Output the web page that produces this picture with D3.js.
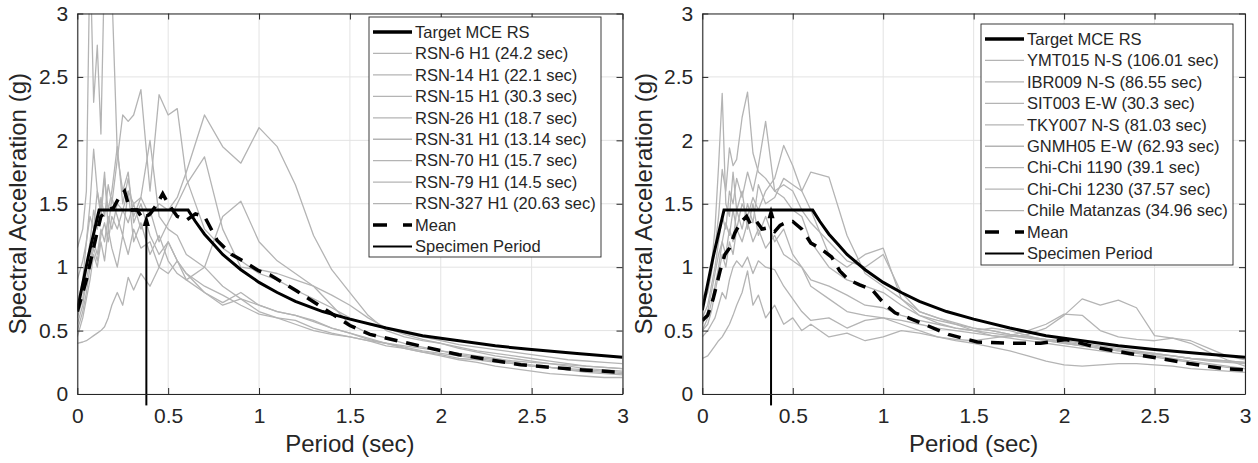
<!DOCTYPE html>
<html>
<head>
<meta charset="utf-8">
<script src="https://cdn.jsdelivr.net/npm/d3@7"></script>
<style>
  body { margin: 0; background: #fff; }
  svg { display: block; font-family: "Liberation Sans", Arial, sans-serif; }
</style>
</head>
<body>
<svg width="1258" height="463"></svg>
<script>

// period grid shared by every ground motion record (sec)
const periods = [0, 0.03, 0.05, 0.07, 0.09, 0.11, 0.13, 0.15, 0.17, 0.19, 0.22, 0.25, 0.28, 0.31, 0.35, 0.4, 0.45,
    0.5, 0.55, 0.6, 0.7, 0.8, 0.9, 1.0, 1.1, 1.2, 1.3, 1.4,
    1.5, 1.6, 1.7, 1.8, 1.9, 2.0, 2.1, 2.2, 2.3, 2.4, 2.5, 2.6, 2.7, 2.8, 2.9, 3.0];

const tickVals = [0, 0.5, 1, 1.5, 2, 2.5, 3];
const tickLabels = ['0', '0.5', '1', '1.5', '2', '2.5', '3'];

// target MCE spectrum
const targetT  = [0, 0.06, 0.12, 0.61, 0.65, 0.7, 0.75, 0.8, 0.9, 1.0, 1.1, 1.2, 1.35, 1.5, 1.7, 1.9, 2.1, 2.3, 2.5, 2.75, 3.0];
const targetSa = [0.66, 1.08, 1.45, 1.45, 1.36, 1.26, 1.18, 1.1, 0.98, 0.88, 0.8, 0.73, 0.65, 0.59, 0.52, 0.46, 0.42, 0.38, 0.35, 0.32, 0.29];

const specimenPeriod = 0.38;

// left panel records
const leftNames = ['RSN-6 H1 (24.2 sec)', 'RSN-14 H1 (22.1 sec)', 'RSN-15 H1 (30.3 sec)', 'RSN-26 H1 (18.7 sec)',
    'RSN-31 H1 (13.14 sec)', 'RSN-70 H1 (15.7 sec)', 'RSN-79 H1 (14.5 sec)', 'RSN-327 H1 (20.63 sec)'];

const rsn6 = [1.15, 1.3, 1.6, 3.5, 2.3, 2.75, 2.05, 3.4, 3.3, 3.2, 1.9, 1.6, 1.75, 1.35, 1.5, 1.25, 1.1,
    1.2, 1.05, 0.95, 0.85, 0.78, 0.7, 0.63, 0.6, 0.55, 0.5, 0.47,
    0.45, 0.42, 0.38, 0.36, 0.33, 0.31, 0.28, 0.27, 0.25, 0.24, 0.22, 0.21, 0.2, 0.19, 0.18, 0.17];
const rsn14 = [0.7, 0.9, 1.2, 1.5, 1.93, 1.6, 1.45, 1.75, 1.3, 1.55, 1.4, 1.25, 1.6, 1.2, 1.35, 1.1, 1.25,
    1.05, 0.95, 0.9, 0.8, 0.7, 0.75, 0.65, 0.6, 0.58, 0.52, 0.48,
    0.45, 0.42, 0.4, 0.37, 0.34, 0.32, 0.3, 0.28, 0.26, 0.24, 0.22, 0.21, 0.19, 0.18, 0.17, 0.16];
const rsn15 = [0.6, 0.75, 1.0, 1.2, 1.45, 1.3, 1.55, 1.4, 1.65, 1.5, 1.85, 2.2, 2.15, 2.2, 2.4, 1.6, 2.36,
    2.2, 2.25, 1.7, 1.3, 1.15, 1.05, 0.95, 0.9, 0.82, 0.75, 0.68,
    0.6, 0.55, 0.52, 0.48, 0.45, 0.42, 0.39, 0.37, 0.35, 0.33, 0.31, 0.29, 0.27, 0.26, 0.25, 0.24];
const rsn26 = [0.55, 0.7, 0.9, 1.05, 1.2, 1.1, 1.3, 1.2, 1.4, 1.3, 1.5, 1.45, 1.6, 1.5, 1.55, 1.4, 1.5,
    1.45, 1.55, 1.75, 2.2, 1.95, 1.82, 2.1, 1.95, 1.65, 1.25, 0.98,
    0.8, 0.62, 0.5, 0.45, 0.42, 0.4, 0.37, 0.34, 0.32, 0.3, 0.28, 0.26, 0.24, 0.22, 0.21, 0.2];
const rsn31 = [0.5, 0.65, 0.8, 1.0, 1.15, 1.05, 1.25, 1.35, 1.2, 1.4, 1.3, 1.45, 1.35, 1.5, 1.3, 1.45, 1.2,
    1.35, 1.5, 1.65, 1.87, 1.3, 1.0, 0.98, 0.95, 0.9, 0.85, 0.78,
    0.7, 0.6, 0.52, 0.47, 0.43, 0.4, 0.36, 0.33, 0.3, 0.28, 0.26, 0.24, 0.22, 0.2, 0.19, 0.18];
const rsn70 = [0.45, 0.6, 0.75, 0.9, 1.1, 1.0, 1.2, 1.05, 1.3, 1.15, 1.0, 1.25, 1.1, 1.3, 1.15, 1.2, 1.0,
    0.95, 1.05, 0.9, 1.0, 1.4, 1.52, 1.2, 1.05, 0.95, 0.85, 0.7,
    0.55, 0.48, 0.44, 0.4, 0.37, 0.34, 0.31, 0.29, 0.27, 0.25, 0.23, 0.21, 0.19, 0.17, 0.16, 0.15];
const rsn79 = [0.4, 0.41, 0.42, 0.44, 0.46, 0.48, 0.5, 0.53, 0.6, 0.7, 0.8, 0.7, 0.92, 0.82, 0.95, 0.85, 1.0,
    1.2, 1.05, 0.95, 0.8, 0.72, 0.8, 0.7, 0.65, 0.62, 0.57, 0.52,
    0.48, 0.43, 0.4, 0.36, 0.33, 0.3, 0.27, 0.25, 0.22, 0.2, 0.18, 0.16, 0.15, 0.14, 0.13, 0.13];
const rsn327 = [0.9, 1.05, 1.2, 1.4, 1.3, 1.6, 1.4, 1.7, 1.45, 1.6, 1.95, 1.5, 1.7, 1.4, 1.55, 2.0, 1.4,
    1.3, 1.25, 1.1, 1.0, 0.85, 0.75, 0.7, 0.65, 0.62, 0.58, 0.52,
    0.48, 0.44, 0.4, 0.38, 0.36, 0.34, 0.32, 0.3, 0.28, 0.26, 0.25, 0.24, 0.23, 0.22, 0.21, 0.2];

const meanLeftT  = [0, 0.05, 0.1, 0.13, 0.17, 0.2, 0.23, 0.26, 0.29, 0.33, 0.36, 0.4, 0.44, 0.47, 0.5, 0.55, 0.6,
    0.65, 0.7, 0.77, 0.85, 0.91, 1.0, 1.06, 1.21, 1.35, 1.5, 1.61, 1.79, 2.1, 2.44, 2.78, 3.0];
const meanLeftSa = [0.65, 0.9, 1.22, 1.4, 1.45, 1.47, 1.55, 1.6, 1.45, 1.45, 1.38, 1.42, 1.5, 1.58, 1.5, 1.4, 1.37,
    1.42, 1.4, 1.21, 1.1, 1.05, 0.97, 0.94, 0.81, 0.68, 0.54, 0.47, 0.41, 0.31, 0.23, 0.19, 0.17];

// right panel records
const rightNames = ['YMT015 N-S (106.01 sec)', 'IBR009 N-S (86.55 sec)', 'SIT003 E-W (30.3 sec)', 'TKY007 N-S (81.03 sec)',
    'GNMH05 E-W (62.93 sec)', 'Chi-Chi 1190 (39.1 sec)', 'Chi-Chi 1230 (37.57 sec)', 'Chile Matanzas (34.96 sec)'];

const ymt015 = [0.75, 0.85, 1.0, 1.3, 1.8, 2.37, 1.5, 1.4, 1.75, 1.45, 1.6, 1.3, 1.5, 1.25, 1.4, 1.2, 1.3,
    1.1, 1.0, 0.9, 0.85, 0.78, 0.7, 0.68, 0.62, 0.58, 0.55, 0.52,
    0.5, 0.48, 0.46, 0.44, 0.42, 0.4, 0.38, 0.36, 0.34, 0.33, 0.32, 0.3, 0.28, 0.26, 0.25, 0.24];
const ibr009 = [0.7, 0.8, 0.95, 1.15, 1.4, 1.77, 1.6, 1.94, 1.8, 1.85, 2.18, 2.38, 1.9, 1.75, 1.7, 1.6, 1.55,
    1.45, 1.4, 1.2, 1.0, 0.9, 0.85, 0.8, 0.7, 0.62, 0.58, 0.55,
    0.52, 0.5, 0.47, 0.45, 0.43, 0.41, 0.39, 0.37, 0.35, 0.33, 0.31, 0.3, 0.28, 0.27, 0.26, 0.25];
const sit003 = [0.6, 0.7, 0.85, 1.0, 1.2, 1.4, 1.3, 1.6, 1.5, 1.7, 1.55, 1.75, 1.6, 1.8, 2.15, 1.6, 1.65,
    1.6, 1.45, 1.35, 1.2, 1.05, 1.0, 1.1, 0.8, 0.65, 0.6, 0.56,
    0.52, 0.5, 0.47, 0.45, 0.43, 0.42, 0.4, 0.38, 0.36, 0.34, 0.32, 0.3, 0.28, 0.27, 0.26, 0.25];
const tky007 = [0.55, 0.65, 0.8, 0.95, 1.1, 1.2, 1.35, 1.25, 1.45, 1.3, 1.5, 1.4, 1.55, 1.45, 1.6, 1.7, 1.96,
    1.8, 1.6, 1.75, 1.71, 1.25, 0.95, 0.85, 0.75, 0.65, 0.6, 0.55,
    0.5, 0.46, 0.44, 0.42, 0.4, 0.38, 0.36, 0.34, 0.32, 0.3, 0.29, 0.27, 0.25, 0.23, 0.21, 0.2];
const gnmh05 = [0.5, 0.6, 0.72, 0.85, 1.0, 1.2, 1.1, 1.3, 1.2, 1.45, 1.3, 1.5, 1.35, 1.65, 1.5, 1.55, 1.7,
    1.65, 1.6, 1.45, 1.1, 1.0, 1.1, 1.15, 0.75, 0.62, 0.56, 0.52,
    0.5, 0.52, 0.5, 0.46, 0.42, 0.4, 0.38, 0.36, 0.34, 0.32, 0.3, 0.28, 0.26, 0.24, 0.22, 0.2];
const chichi1190 = [0.28, 0.3, 0.34, 0.38, 0.42, 0.45, 0.5, 0.55, 0.62, 0.7, 0.8, 0.97, 0.7, 0.78, 0.6, 0.7, 0.55,
    0.6, 0.5, 0.55, 0.45, 0.48, 0.42, 0.45, 0.5, 0.48, 0.45, 0.42,
    0.4, 0.37, 0.34, 0.3, 0.26, 0.23, 0.22, 0.23, 0.24, 0.24, 0.23, 0.22, 0.2, 0.19, 0.18, 0.17];
const chichi1230 = [0.45, 0.5, 0.55, 0.6, 0.7, 0.8, 0.75, 0.9, 1.0, 1.05, 1.0, 1.08, 0.95, 1.05, 1.0, 0.98, 0.85,
    0.75, 0.65, 0.58, 0.6, 0.52, 0.58, 0.6, 0.55, 0.5, 0.45, 0.43,
    0.42, 0.44, 0.46, 0.5, 0.55, 0.63, 0.62, 0.5, 0.45, 0.43, 0.42, 0.44, 0.4, 0.33, 0.27, 0.22];
const chileMatanzas = [0.5, 0.55, 0.65, 0.8, 0.95, 1.1, 1.0, 1.2, 1.1, 1.3, 1.2, 1.35, 1.2, 1.3, 1.15, 1.25, 1.1,
    1.05, 1.0, 0.85, 0.75, 0.65, 0.62, 0.6, 0.58, 0.55, 0.52, 0.5,
    0.48, 0.46, 0.45, 0.47, 0.52, 0.62, 0.75, 0.7, 0.74, 0.68, 0.46, 0.44, 0.42, 0.36, 0.3, 0.27];

const meanRightT  = [0, 0.03, 0.06, 0.1, 0.125, 0.15, 0.18, 0.21, 0.245, 0.27, 0.3, 0.33, 0.36, 0.4, 0.43, 0.46, 0.5,
    0.55, 0.6, 0.65, 0.715, 0.76, 0.81, 0.87, 0.94, 1.0, 1.065, 1.14, 1.21, 1.36, 1.52, 1.7, 1.87, 2.01, 2.2,
    2.36, 2.53, 2.69, 2.88, 3.0];
const meanRightSa = [0.58, 0.62, 0.75, 0.98, 1.1, 1.15, 1.27, 1.35, 1.4, 1.33, 1.36, 1.3, 1.31, 1.28, 1.33, 1.35, 1.36,
    1.3, 1.19, 1.15, 1.08, 0.97, 0.9, 0.86, 0.82, 0.72, 0.64, 0.6, 0.56, 0.47, 0.41, 0.4, 0.4, 0.43, 0.36,
    0.32, 0.28, 0.24, 0.2, 0.19];


init();

function init() {
    const svg = d3.select('svg');
    const axisColor = '#262626';
    const greyColor = '#b4b4b4';

    const panels = [
        {
            id: 'left', x0: 77.3, x1: 622.5, yLabelX: 26, arrowTip: 1.42,
            records: [rsn6, rsn14, rsn15, rsn26, rsn31, rsn70, rsn79, rsn327], names: leftNames,
            meanT: meanLeftT, meanSa: meanLeftSa,
            lx: 369, ly: 17, lw: 232, lh: 240
        },
        {
            id: 'right', x0: 702.3, x1: 1245, yLabelX: 652, arrowTip: 1.48,
            records: [ymt015, ibr009, sit003, tky007, gnmh05, chichi1190, chichi1230, chileMatanzas], names: rightNames,
            meanT: meanRightT, meanSa: meanRightSa,
            lx: 981, ly: 24, lw: 252, lh: 241
        }
    ];

    panels.forEach(p => drawPanel(p));

    function drawPanel(p) {
        const x = d3.scaleLinear().domain([0, 3]).range([p.x0, p.x1]);
        const y = d3.scaleLinear().domain([0, 3]).range([394, 13.5]);
        const g = svg.append('g');

        const clipId = 'clip-' + p.id;
        svg.append('clipPath').attr('id', clipId)
            .append('rect')
            .attr('x', x(0)).attr('y', y(3))
            .attr('width', x(3) - x(0)).attr('height', y(0) - y(3));

        // grid
        const gGrid = g.append('g');
        tickVals.forEach(v => {
            gGrid.append('line')
                .attr('x1', x(v)).attr('x2', x(v))
                .attr('y1', y(0)).attr('y2', y(3))
                .attr('stroke', '#e3e3e3').attr('stroke-width', 1);
            gGrid.append('line')
                .attr('x1', x(0)).attr('x2', x(3))
                .attr('y1', y(v)).attr('y2', y(v))
                .attr('stroke', '#e3e3e3').attr('stroke-width', 1);
        });

        const line = d3.line().x(d => x(d[0])).y(d => y(d[1]));
        const gData = g.append('g').attr('clip-path', 'url(#' + clipId + ')');

        p.records.forEach(r => {
            gData.append('path')
                .datum(periods.map((t, i) => [t, r[i]]))
                .attr('d', line)
                .attr('fill', 'none')
                .attr('stroke', greyColor)
                .attr('stroke-width', 1.3)
                .attr('stroke-linejoin', 'round');
        });

        gData.append('path')
            .datum(targetT.map((t, i) => [t, targetSa[i]]))
            .attr('d', line)
            .attr('fill', 'none')
            .attr('stroke', '#000')
            .attr('stroke-width', 3);

        gData.append('path')
            .datum(p.meanT.map((t, i) => [t, p.meanSa[i]]))
            .attr('d', line)
            .attr('fill', 'none')
            .attr('stroke', '#000')
            .attr('stroke-width', 3.5)
            .attr('stroke-dasharray', '13,9');

        // specimen period arrow
        const sx = x(specimenPeriod);
        const tipY = y(p.arrowTip);
        g.append('line')
            .attr('x1', sx).attr('x2', sx)
            .attr('y1', y(-0.09)).attr('y2', tipY + 6)
            .attr('stroke', '#000').attr('stroke-width', 2);
        g.append('path')
            .attr('d', 'M' + sx + ',' + tipY + 'L' + (sx - 3.5) + ',' + (tipY + 12) + 'L' + (sx + 3.5) + ',' + (tipY + 12) + 'Z')
            .attr('fill', '#000');

        // axes, ticks pointing inwards on all four sides
        const tickFmt = (d, i) => tickLabels[i];
        const gx = g.append('g').attr('transform', 'translate(0,' + y(0) + ')')
            .call(d3.axisBottom(x).tickValues(tickVals).tickFormat(tickFmt).tickSize(-6).tickSizeOuter(0).tickPadding(14));
        const gy = g.append('g').attr('transform', 'translate(' + x(0) + ',0)')
            .call(d3.axisLeft(y).tickValues(tickVals).tickFormat(tickFmt).tickSize(-6).tickSizeOuter(0).tickPadding(9));
        const gt = g.append('g').attr('transform', 'translate(0,' + y(3) + ')')
            .call(d3.axisTop(x).tickValues(tickVals).tickFormat('').tickSize(-6).tickSizeOuter(0));
        const gr = g.append('g').attr('transform', 'translate(' + x(3) + ',0)')
            .call(d3.axisRight(y).tickValues(tickVals).tickFormat('').tickSize(-6).tickSizeOuter(0));

        [gx, gy, gt, gr].forEach(a => {
            a.select('.domain').attr('stroke', axisColor).attr('stroke-width', 1.1);
            a.selectAll('.tick line').attr('stroke', axisColor);
            a.selectAll('.tick text')
                .attr('fill', axisColor)
                .style('font-size', '21px')
                .style('font-family', '"Liberation Sans", Arial, sans-serif');
        });

        svg.append('text')
            .attr('x', (x(0) + x(3)) / 2)
            .attr('y', 452)
            .attr('text-anchor', 'middle')
            .attr('fill', axisColor)
            .style('font-size', '24px')
            .text('Period (sec)');

        svg.append('text')
            .attr('transform', 'translate(' + p.yLabelX + ',' + ((y(0) + y(3)) / 2) + ') rotate(-90)')
            .attr('text-anchor', 'middle')
            .attr('fill', axisColor)
            .style('font-size', '24px')
            .text('Spectral Acceleration (g)');

        // legend
        const items = [{ label: 'Target MCE RS', kind: 'target' }]
            .concat(p.names.map(n => ({ label: n, kind: 'record' })))
            .concat([{ label: 'Mean', kind: 'mean' }, { label: 'Specimen Period', kind: 'specimen' }]);

        const lg = svg.append('g');
        lg.append('rect')
            .attr('x', p.lx).attr('y', p.ly)
            .attr('width', p.lw).attr('height', p.lh)
            .attr('fill', '#fff')
            .attr('stroke', axisColor)
            .attr('stroke-width', 0.9);

        items.forEach((it, i) => {
            const yy = p.ly + 15 + i * 21.45;
            const ln = lg.append('line')
                .attr('x1', p.lx + 4).attr('x2', p.lx + 43)
                .attr('y1', yy).attr('y2', yy);
            if (it.kind === 'target') ln.attr('stroke', '#000').attr('stroke-width', 3.5);
            if (it.kind === 'record') ln.attr('stroke', greyColor).attr('stroke-width', 1.3);
            if (it.kind === 'mean') ln.attr('stroke', '#000').attr('stroke-width', 3.5).attr('stroke-dasharray', '14,16');
            if (it.kind === 'specimen') ln.attr('stroke', '#000').attr('stroke-width', 2);

            lg.append('text')
                .attr('x', p.lx + 46)
                .attr('y', yy)
                .attr('dy', '0.35em')
                .attr('fill', axisColor)
                .style('font-size', '16.5px')
                .text(it.label);
        });
    }
}
</script>
</body>
</html>
